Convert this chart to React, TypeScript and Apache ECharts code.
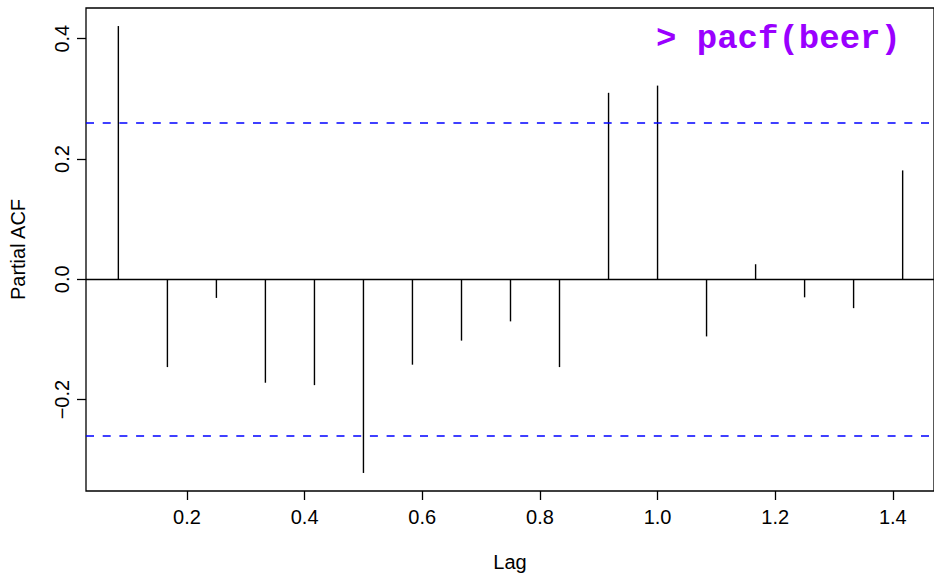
import React, { useEffect, useRef } from "react";
import * as echarts from "echarts";

// Lags (in years, frequency 12) and partial autocorrelations
const lags = [0.0833, 0.1667, 0.25, 0.3333, 0.4167, 0.5, 0.5833, 0.6667, 0.75, 0.8333, 0.9167, 1.0, 1.0833, 1.1667, 1.25, 1.3333, 1.4167];
const pacfValues = [0.421, -0.146, -0.031, -0.172, -0.176, -0.322, -0.142, -0.102, -0.07, -0.146, 0.31, 0.322, -0.095, 0.025, -0.03, -0.048, 0.181];
const confLimit = 0.262;
const xTicks = [0.2, 0.4, 0.6, 0.8, 1.0, 1.2, 1.4];
const yTicks = [-0.2, 0.0, 0.2, 0.4];
const titleText = "> pacf(beer)";

const fmt = (v: number) => (v < 0 ? "\u2212" + Math.abs(v).toFixed(1) : v.toFixed(1));

export default function App() {
  const ref = useRef<HTMLDivElement>(null);
  useEffect(() => {
    if (!ref.current) return;
    const chart = echarts.init(ref.current, null, { renderer: "svg" });
    const font = "'Liberation Sans', Arial, Helvetica, sans-serif";
    chart.setOption({
      animation: false,
      backgroundColor: "#fff",
      grid: {
        left: 85,
        top: 8,
        width: 851,
        height: 487,
        show: true,
        borderColor: "#000",
        borderWidth: 1.3,
        backgroundColor: "transparent",
      },
      xAxis: {
        type: "value",
        min: 0.0283,
        max: 1.47,
        axisLine: { show: false, onZero: false },
        splitLine: { show: false },
        axisTick: {
          show: true,
          length: 9,
          customValues: xTicks,
          lineStyle: { color: "#000", width: 1.3 },
        },
        axisLabel: {
          customValues: xTicks,
          formatter: fmt,
          fontSize: 20,
          color: "#000",
          fontFamily: font,
          margin: 16,
        },
        name: "Lag",
        nameLocation: "middle",
        nameGap: 61,
        nameTextStyle: { fontSize: 20, color: "#000", fontFamily: font },
      },
      yAxis: {
        type: "value",
        min: -0.352,
        max: 0.451,
        axisLine: { show: false, onZero: false },
        splitLine: { show: false },
        axisTick: {
          show: true,
          length: 9,
          customValues: yTicks,
          lineStyle: { color: "#000", width: 1.3 },
        },
        axisLabel: {
          customValues: yTicks,
          formatter: fmt,
          rotate: 90,
          fontSize: 20,
          color: "#000",
          fontFamily: font,
          margin: 14,
        },
        name: "Partial ACF",
        nameLocation: "middle",
        nameRotate: 90,
        nameGap: 58,
        nameTextStyle: { fontSize: 20, color: "#000", fontFamily: font },
      },
      graphic: [
        {
          type: "text",
          left: 656,
          top: 22,
          style: {
            text: titleText,
            fill: "#9a00ff",
            fontSize: 34,
            fontWeight: "bold",
            fontFamily: "'Liberation Mono', 'DejaVu Sans Mono', monospace",
          },
        },
      ],
      series: [
        {
          type: "custom",
          data: lags.map((l, i) => [l, pacfValues[i]]),
          encode: { x: 0, y: 1 },
          renderItem: (params: any, api: any) => {
            const x = api.value(0);
            const y = api.value(1);
            const p0 = api.coord([x, 0]);
            const p1 = api.coord([x, y]);
            return {
              type: "line",
              shape: { x1: p0[0], y1: p0[1], x2: p1[0], y2: p1[1] },
              style: { stroke: "#000", lineWidth: 1.4 },
            };
          },
          markLine: {
            silent: true,
            symbol: ["none", "none"],
            label: { show: false },
            data: [
              { yAxis: 0, lineStyle: { color: "#000", type: "solid", width: 1.3 } },
              { yAxis: confLimit, lineStyle: { color: "#0000ff", type: [8, 8.7], width: 1.6 } },
              { yAxis: -confLimit, lineStyle: { color: "#0000ff", type: [8, 8.7], width: 1.6 } },
            ],
          },
        },
      ],
    });
    return () => chart.dispose();
  }, []);
  return (
    <div
      ref={ref}
      style={{ position: "fixed", left: 0, top: 0, width: 934, height: 577, overflow: "hidden" }}
    />
  );
}
